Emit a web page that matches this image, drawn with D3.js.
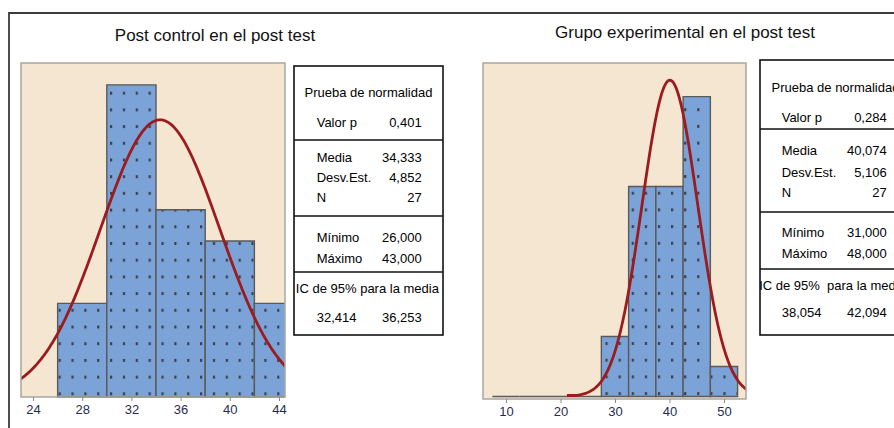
<!DOCTYPE html>
<html><head><meta charset="utf-8">
<script src="https://cdn.jsdelivr.net/npm/d3@7"></script>
<style>body{margin:0;background:#fff;} svg{display:block;}</style>
</head><body><svg id="c" width="894" height="428"></svg>
<script>
// ---------------- data ----------------
const panelTitles = ["Post control en el post test", "Grupo experimental en el post test"];

const controlBinEdges = [26, 30, 34, 38, 42, 46];
const controlCounts = [3, 10, 6, 5, 3];
const controlTicks = [24, 28, 32, 36, 40, 44];

const experimentalBinEdges = [7.5, 12.5, 17.5, 22.5, 27.5, 32.5, 37.5, 42.5, 47.5, 52.5];
const experimentalCounts = [0, 0, 0, 0, 2, 7, 7, 10, 1];
const experimentalTicks = [10, 20, 30, 40, 50];

const tableHeader = "Prueba de normalidad";
const tableLabels = ["Valor p", "Media", "Desv.Est.", "N", "Mínimo", "Máximo"];
const ciHeader = ["IC de 95% para la media", "IC de 95%  para la media"];
const controlValues = [0.401, 34.333, 4.852, 27, 26.000, 43.000];
const controlCI = [32.414, 36.253];
const experimentalValues = [0.284, 40.074, 5.106, 27, 31.000, 48.000];
const experimentalCI = [38.054, 42.094];

// ---------------- layout ----------------
const svg = d3.select("#c");
const es = d3.formatLocale({decimal: ",", thousands: ".", grouping: [3], currency: ["", "€"]});
const f3 = es.format(".3f"), fInt = es.format("d");
const valueFormats = [f3, f3, f3, fInt, f3, f3];

const layouts = [
  {
    edges: controlBinEdges, counts: controlCounts, ticks: controlTicks,
    values: controlValues, ci: controlCI, ciHead: ciHeader[0],
    plot: {x0: 21, x1: 285, y0: 63, y1: 397}, baseY: 397, xDomain: [23.02, 44.49], yMax: 10.7,
    binWidth: 4,
    title: {x: 215, y: 35},
    dots: {x: 110, y: 91.7, dx: 12.86, dy: 16.7},
    table: {x: 294, y: 66, w: 149, h: 269, headCx: 368.5, labelX: 316.7, valueX: 421.7, ciCx: 367.4,
      rowY: [92, 122, 157, 177, 197, 237, 258], divY: [140, 216, 272], ciY: 288, ciValY: 317}
  },
  {
    edges: experimentalBinEdges, counts: experimentalCounts, ticks: experimentalTicks,
    values: experimentalValues, ci: experimentalCI, ciHead: ciHeader[1],
    plot: {x0: 483, x1: 746, y0: 63, y1: 399}, baseY: 396.5, xDomain: [5.78, 54.04], yMax: 11.12,
    binWidth: 5,
    title: {x: 685, y: 32},
    dots: {x: 631.7, y: 191.7, dx: 13.1, dy: 16.7},
    table: {x: 760, y: 60, w: 150, h: 275, headCx: 835.5, labelX: 781.7, valueX: 886.7, ciCx: 832.5,
      rowY: [87, 117, 150, 172, 192, 232, 253], divY: [129, 212, 269], ciY: 285, ciValY: 312}
  }
];

const FONT = "'Liberation Sans', Arial, sans-serif";
const defs = svg.append("defs");

// outer frame
svg.append("path").attr("d", "M9,428 L9,13 L894,13")
  .attr("fill", "none").attr("stroke", "#3c3c3c").attr("stroke-width", 1.8);

layouts.forEach((L, i) => {
  const stats = {mean: L.values[1], sd: L.values[2], n: L.values[3]};
  const x = d3.scaleLinear().domain(L.xDomain).range([L.plot.x0, L.plot.x1]);
  const y = d3.scaleLinear().domain([0, L.yMax]).range([L.baseY, L.plot.y0]);

  // title
  svg.append("text").attr("x", L.title.x).attr("y", L.title.y).attr("dy", "0.35em")
    .attr("text-anchor", "middle").attr("font-family", FONT).attr("font-size", 17)
    .attr("fill", "#111").text(panelTitles[i]);

  // clip + pattern
  defs.append("clipPath").attr("id", "clip" + i).append("rect")
    .attr("x", L.plot.x0).attr("y", L.plot.y0)
    .attr("width", L.plot.x1 - L.plot.x0).attr("height", L.plot.y1 - L.plot.y0 + 1);
  const pat = defs.append("pattern").attr("id", "dots" + i).attr("patternUnits", "userSpaceOnUse")
    .attr("x", L.dots.x).attr("y", L.dots.y).attr("width", L.dots.dx).attr("height", L.dots.dy);
  pat.append("rect").attr("width", L.dots.dx).attr("height", L.dots.dy).attr("fill", "#7ba3d7");
  pat.append("rect").attr("x", 0).attr("y", 0).attr("width", 2.2).attr("height", 3).attr("fill", "#3e4148");

  // plot background
  svg.append("rect").attr("x", L.plot.x0).attr("y", L.plot.y0)
    .attr("width", L.plot.x1 - L.plot.x0).attr("height", L.plot.y1 - L.plot.y0)
    .attr("fill", "#f5e6d1");

  const g = svg.append("g").attr("clip-path", `url(#clip${i})`);
  const bins = L.counts.map((c, k) => ({x0: L.edges[k], x1: L.edges[k + 1], c}));
  g.selectAll("path.bar").data(bins).join("path").attr("class", "bar")
    .attr("d", d => `M${x(d.x0)},${y(0)}V${y(d.c)}H${x(d.x1)}V${y(0)}Z`)
    .attr("fill", d => d.c > 0 ? `url(#dots${i})` : "none")
    .attr("stroke", "#5a5a5a").attr("stroke-width", 1.4);

  // fitted normal curve (from the displayed mean / std dev / N)
  const lo = stats.mean - 3.7 * stats.sd, hi = stats.mean + 3.7 * stats.sd;
  const pts = d3.range(0, 301).map(k => {
    const v = lo + (hi - lo) * k / 300;
    const z = (v - stats.mean) / stats.sd;
    return [v, stats.n * L.binWidth * Math.exp(-0.5 * z * z) / (stats.sd * Math.sqrt(2 * Math.PI))];
  });
  g.append("path").datum(pts)
    .attr("d", d3.line().x(d => x(d[0])).y(d => Math.min(y(d[1]), L.baseY - 1)))
    .attr("fill", "none").attr("stroke", "#9b1b1e").attr("stroke-width", 2.8);

  // plot border
  svg.append("rect").attr("x", L.plot.x0).attr("y", L.plot.y0)
    .attr("width", L.plot.x1 - L.plot.x0).attr("height", L.plot.y1 - L.plot.y0)
    .attr("fill", "none").attr("stroke", "#a9a6a2").attr("stroke-width", 1.5);

  // x axis
  const ax = svg.append("g").attr("transform", `translate(0,${L.plot.y1})`)
    .call(d3.axisBottom(x).tickValues(L.ticks).tickSize(4).tickPadding(4).tickFormat(d3.format("d")));
  ax.select(".domain").remove();
  ax.selectAll("line").attr("stroke", "#8a8a8a");
  ax.selectAll("text").attr("font-family", FONT).attr("font-size", 13).attr("fill", "#1f2d4f");

  // statistics table
  const T = L.table;
  const tg = svg.append("g").attr("font-family", FONT).attr("font-size", 13).attr("fill", "#000");
  tg.append("rect").attr("x", T.x).attr("y", T.y).attr("width", T.w).attr("height", T.h)
    .attr("fill", "#fff").attr("stroke", "#111").attr("stroke-width", 1.6);
  T.divY.forEach(dy => tg.append("line").attr("x1", T.x).attr("x2", T.x + T.w)
    .attr("y1", dy).attr("y2", dy).attr("stroke", "#111").attr("stroke-width", 1.6));
  tg.append("text").attr("x", T.headCx).attr("y", T.rowY[0]).attr("dy", "0.35em")
    .attr("text-anchor", "middle").text(tableHeader);
  tableLabels.forEach((lab, k) => {
    const yy = T.rowY[k + 1];
    tg.append("text").attr("x", T.labelX).attr("y", yy).attr("dy", "0.35em").text(lab);
    tg.append("text").attr("x", T.valueX).attr("y", yy).attr("dy", "0.35em")
      .attr("text-anchor", "end").text(valueFormats[k](L.values[k]));
  });
  tg.append("text").attr("x", T.ciCx).attr("y", T.ciY).attr("dy", "0.35em")
    .attr("text-anchor", "middle").style("white-space", "pre").text(L.ciHead);
  tg.append("text").attr("x", T.labelX).attr("y", T.ciValY).attr("dy", "0.35em").text(f3(L.ci[0]));
  tg.append("text").attr("x", T.valueX).attr("y", T.ciValY).attr("dy", "0.35em")
    .attr("text-anchor", "end").text(f3(L.ci[1]));
});
</script></body></html>
